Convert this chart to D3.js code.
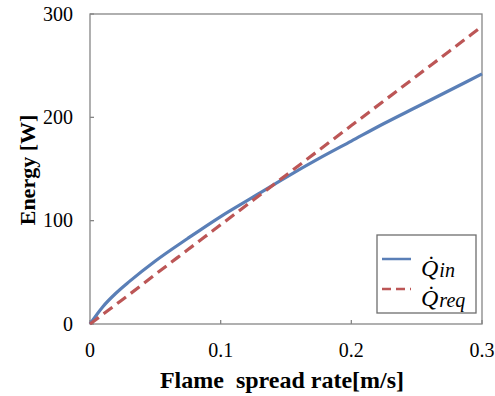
<html>
<head>
<style>
body { margin: 0; background: #fff; }
.axis-line { stroke: #868686; stroke-width: 1.3px; fill: none; }
.tick-label { font-family: "Liberation Serif", "Times New Roman", serif; font-size: 20px; fill: #000; }
.axis-title { font-family: "Liberation Serif", "Times New Roman", serif; font-size: 24px; font-weight: bold; fill: #000; }
.legend-text { font-family: "Liberation Serif", "Times New Roman", serif; font-style: italic; font-size: 24px; fill: #000; }
</style>
</head>
<body>
<script src="https://cdnjs.cloudflare.com/ajax/libs/d3/7.8.5/d3.min.js"></script>
<script>

var rate = [0, 0.01, 0.02, 0.03, 0.05, 0.075, 0.1, 0.125, 0.15, 0.175, 0.2, 0.225, 0.25, 0.275, 0.3];
var qIn  = [0, 17, 30, 41, 61, 83, 104, 123, 142, 160, 177, 194, 210, 226, 242];
var qReq = [0, 9.5, 19, 28.5, 48, 72, 96, 120, 144, 168, 192, 216, 240, 264, 288];

var xTicks = [0, 0.1, 0.2, 0.3];
var yTicks = [0, 100, 200, 300];

var width = 495, height = 396;
var plotLeft = 90, plotRight = 482, plotTop = 14, plotBottom = 324;

var svg = d3.select("body").append("svg")
            .attr("width", width)
            .attr("height", height)

var x = d3.scaleLinear().domain([0, 0.3]).range([plotLeft, plotRight])
var y = d3.scaleLinear().domain([0, 300]).range([plotBottom, plotTop])

// frame
svg.append("rect")
   .attr("x", plotLeft).attr("y", plotTop)
   .attr("width", plotRight - plotLeft).attr("height", plotBottom - plotTop)
   .attr("class", "axis-line")

// inner ticks
svg.selectAll(".ytick").data(yTicks).enter().append("line")
   .attr("x1", plotLeft).attr("x2", plotLeft + 4)
   .attr("y1", function(d){ return y(d) }).attr("y2", function(d){ return y(d) })
   .attr("class", "axis-line")
svg.selectAll(".xtick").data(xTicks).enter().append("line")
   .attr("x1", function(d){ return x(d) }).attr("x2", function(d){ return x(d) })
   .attr("y1", plotBottom).attr("y2", plotBottom - 4)
   .attr("class", "axis-line")

svg.selectAll(".ylab").data(yTicks).enter().append("text")
   .attr("class", "tick-label")
   .attr("x", plotLeft - 17).attr("y", function(d){ return y(d) })
   .attr("dy", "0.33em").attr("text-anchor", "end")
   .text(function(d){ return d })
svg.selectAll(".xlab").data(xTicks).enter().append("text")
   .attr("class", "tick-label")
   .attr("x", function(d){ return x(d) }).attr("y", plotBottom + 33)
   .attr("text-anchor", "middle")
   .text(function(d){ return d === 0 ? "0" : d.toFixed(1) })

svg.append("text").attr("class", "axis-title")
   .attr("x", 282).attr("y", 388).attr("text-anchor", "middle")
   .attr("xml:space", "preserve")
   .text("Flame  spread rate[m/s]")
svg.append("text").attr("class", "axis-title")
   .attr("transform", "translate(35,170) rotate(-90)")
   .attr("text-anchor", "middle")
   .style("font-size", "22px")
   .text("Energy [W]")

var line = d3.line()
             .x(function(d, i){ return x(rate[i]) })
             .y(function(d){ return y(d) })
             .curve(d3.curveMonotoneX)

svg.append("path").attr("d", line(qIn))
   .attr("fill", "none").attr("stroke", "#5a7fb7").attr("stroke-width", 3.2)
svg.append("path").attr("d", line(qReq))
   .attr("fill", "none").attr("stroke", "#bc5656").attr("stroke-width", 3.2)
   .attr("stroke-dasharray", "11,6")

// legend
var lg = svg.append("g")
lg.append("rect").attr("x", 377).attr("y", 235).attr("width", 99).attr("height", 78)
  .attr("fill", "#fff").attr("stroke", "#6e6e6e").attr("stroke-width", 1.3)
lg.append("line").attr("x1", 382).attr("x2", 411).attr("y1", 259).attr("y2", 259)
  .attr("stroke", "#5a7fb7").attr("stroke-width", 2.5)
lg.append("line").attr("x1", 382).attr("x2", 411).attr("y1", 289).attr("y2", 289)
  .attr("stroke", "#bc5656").attr("stroke-width", 2.5).attr("stroke-dasharray", "9,5")

var labels = [["in", 276], ["req", 306]]
labels.forEach(function(l){
  var t = lg.append("text").attr("class", "legend-text").attr("x", 421).attr("y", l[1])
  t.append("tspan").text("Q\u0307")
  t.append("tspan").attr("dy", 1).attr("dx", 1).attr("font-size", 20).text(l[0])
})

</script>
</body>
</html>
